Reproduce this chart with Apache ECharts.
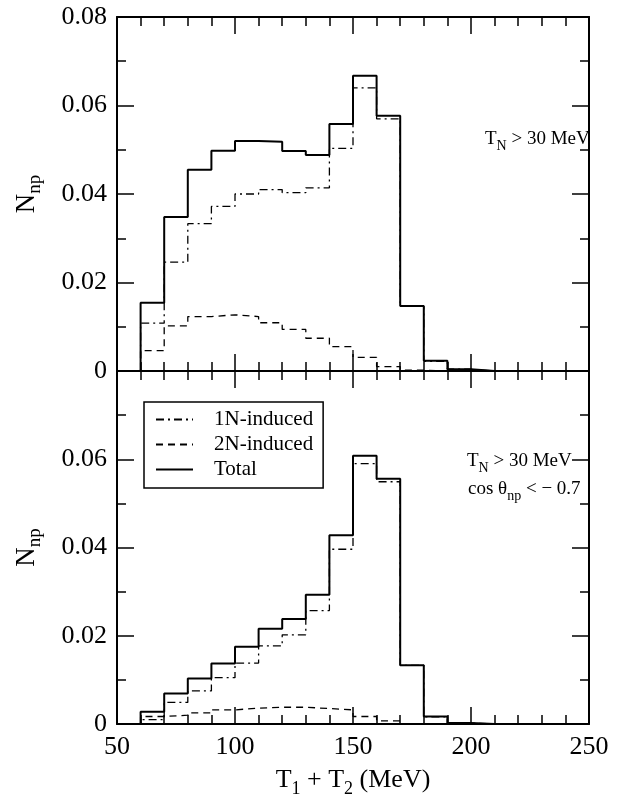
<!DOCTYPE html>
<html lang="en" style="height: 100%">
<head>
  <meta charset="utf-8">
  <title>np spectrum</title>
</head>
<body style="height: 100%; margin: 0; background: #fff">
  <div id="container" style="width: 644px;height: 799px"></div>

  <script type="text/javascript" src="https://cdn.jsdelivr.net/npm/echarts@6/dist/echarts.min.js"></script>

  <script type="text/javascript">
    // bin left edges (MeV), last point closes the histogram
    const edges = [50, 60, 70, 80, 90, 100, 110, 120, 130, 140, 150, 160, 170, 180, 190, 200, 210, 220, 230, 240, 250];

    // upper panel: T_N > 30 MeV
    const topTotal = [0, 0.0154, 0.0348, 0.0455, 0.0498, 0.0520, 0.0518, 0.0497, 0.0488, 0.0558, 0.0667, 0.0577, 0.0147, 0.0023, 0.0004, 0, 0, 0, 0, 0, 0];
    const top1N = [0, 0.0108, 0.0246, 0.0333, 0.0372, 0.0400, 0.0410, 0.0403, 0.0414, 0.0503, 0.0640, 0.0570, 0.0146, 0.0022, 0.0004, 0, 0, 0, 0, 0, 0];
    const top2N = [0, 0.0046, 0.0102, 0.0123, 0.0127, 0.0123, 0.0109, 0.0094, 0.0074, 0.0055, 0.0031, 0.0010, 0.0002, 0, 0, 0, 0, 0, 0, 0, 0];

    // lower panel: T_N > 30 MeV, cos theta_np < -0.7
    const botTotal = [0, 0.0028, 0.0069, 0.0103, 0.0137, 0.0175, 0.0216, 0.0238, 0.0293, 0.0428, 0.0608, 0.0556, 0.0133, 0.0017, 0.0002, 0, 0, 0, 0, 0, 0];
    const bot1N = [0, 0.0010, 0.0049, 0.0075, 0.0105, 0.0138, 0.0177, 0.0202, 0.0257, 0.0396, 0.0590, 0.0549, 0.0133, 0.0016, 0.0002, 0, 0, 0, 0, 0, 0];
    const bot2N = [0, 0.0017, 0.0020, 0.0025, 0.0032, 0.0036, 0.0038, 0.0038, 0.0035, 0.0032, 0.0017, 0.0007, 0.0001, 0, 0, 0, 0, 0, 0, 0, 0];

    const xTicks = [50, 100, 150, 200, 250];
    const yTicks = [0, 0.02, 0.04, 0.06, 0.08];

    const FONT = 'Liberation Serif';

    var dom = document.getElementById('container');
    var myChart = echarts.init(dom, null, { renderer: 'canvas' });

    function pairs(vals) {
      return edges.map(function (x, i) { return [x, vals[i]]; });
    }

    function xAx(grid, pos, showLabel) {
      return {
        type: 'value', gridIndex: grid, position: pos,
        min: xTicks[0], max: xTicks[xTicks.length - 1], interval: 50,
        axisLine: { onZero: false, lineStyle: { color: '#000', width: 2 } },
        axisTick: { inside: true, length: 17, lineStyle: { color: '#000', width: 1.5 } },
        minorTick: { show: true, splitNumber: 5, length: 9, lineStyle: { color: '#000', width: 1.5 } },
        splitLine: { show: false },
        axisLabel: { show: showLabel, fontFamily: FONT, fontSize: 26, color: '#000', margin: 10 }
      };
    }

    function yAx(grid, pos, showLabel, hideTop) {
      return {
        type: 'value', gridIndex: grid, position: pos,
        min: yTicks[0], max: yTicks[yTicks.length - 1], interval: 0.02,
        axisLine: { onZero: false, lineStyle: { color: '#000', width: 2 } },
        axisTick: { inside: true, length: 17, lineStyle: { color: '#000', width: 1.5 } },
        minorTick: { show: true, splitNumber: 2, length: 9, lineStyle: { color: '#000', width: 1.5 } },
        splitLine: { show: false },
        axisLabel: {
          show: showLabel, fontFamily: FONT, fontSize: 26, color: '#000', margin: 10,
          formatter: function (v) {
            if (hideTop && v > 0.07) return '';
            return v === 0 ? '0' : v.toFixed(2);
          }
        }
      };
    }

    const yName = {
      name: '{n|N}{s|np}',
      nameLocation: 'middle',
      nameGap: 72,
      nameRotate: 90,
      nameTextStyle: {
        rich: {
          n: { fontFamily: FONT, fontSize: 27, color: '#000' },
          s: { fontFamily: FONT, fontSize: 19, color: '#000', padding: [18, 0, 0, 0] }
        }
      }
    };

    function step(name, vals, xi, yi, width, dash) {
      return {
        name: name, type: 'line', step: 'end',
        xAxisIndex: xi, yAxisIndex: yi,
        data: pairs(vals), symbol: 'none', silent: true,
        itemStyle: { color: '#000' },
        lineStyle: { color: '#000', width: width, type: dash },
        animation: false
      };
    }

    const dashDot = [8, 4, 2, 4];
    const dashed = [7, 5];

    const txt = {
      a: { fontFamily: FONT, fontSize: 19, fontWeight: 'normal', color: '#000' },
      s: { fontFamily: FONT, fontSize: 14, fontWeight: 'normal', color: '#000', padding: [13, 0, 0, 0] }
    };

    option = {
      backgroundColor: '#fff',
      animation: false,
      grid: [
        { left: 117, top: 17, width: 472, height: 354 },
        { left: 117, top: 371, width: 472, height: 354 }
      ],
      title: [
        { text: '{a|T}{s|N}{a| > 30 MeV}', left: 485, top: 126, padding: 0, textStyle: { fontWeight: 'normal', rich: txt } },
        { text: '{a|T}{s|N}{a| > 30 MeV}', left: 467, top: 448, padding: 0, textStyle: { fontWeight: 'normal', rich: txt } },
        { text: '{a|cos θ}{s|np}{a| < − 0.7}', left: 468, top: 476, padding: 0, textStyle: { fontWeight: 'normal', rich: txt } }
      ],
      legend: {
        data: ['1N-induced', '2N-induced', 'Total'],
        orient: 'vertical',
        left: 144, top: 402,
        padding: [7, 10, 8, 11],
        itemWidth: 37, itemHeight: 14, itemGap: 4,
        itemStyle: { opacity: 0 },
        borderColor: '#000', borderWidth: 1.5, borderRadius: 0,
        textStyle: { fontFamily: FONT, fontSize: 21, color: '#000', padding: [0, 0, 0, 16] },
        selectedMode: false
      },
      xAxis: [
        xAx(0, 'bottom', false),
        xAx(0, 'top', false),
        Object.assign(xAx(1, 'bottom', true), {
          name: '{a|T}{s|1}{a| + T}{s|2}{a| (MeV)}',
          nameLocation: 'middle', nameGap: 38,
          nameTextStyle: {
            rich: {
              a: { fontFamily: FONT, fontSize: 26, color: '#000' },
              s: { fontFamily: FONT, fontSize: 18, color: '#000', padding: [18, 0, 0, 0] }
            }
          }
        }),
        xAx(1, 'top', false)
      ],
      yAxis: [
        Object.assign(yAx(0, 'left', true, false), yName),
        yAx(0, 'right', false, false),
        Object.assign(yAx(1, 'left', true, true), yName),
        yAx(1, 'right', false, false)
      ],
      series: [
        step('1N-induced', top1N, 0, 0, 1.3, dashDot),
        step('2N-induced', top2N, 0, 0, 1.3, dashed),
        step('Total', topTotal, 0, 0, 2, 'solid'),
        step('1N-induced', bot1N, 2, 2, 1.3, dashDot),
        step('2N-induced', bot2N, 2, 2, 1.3, dashed),
        step('Total', botTotal, 2, 2, 2, 'solid')
      ]
    };

    if (option && typeof option === 'object') {
      myChart.setOption(option);
    }

    window.addEventListener('resize', myChart.resize);
  </script>
</body>
</html>
